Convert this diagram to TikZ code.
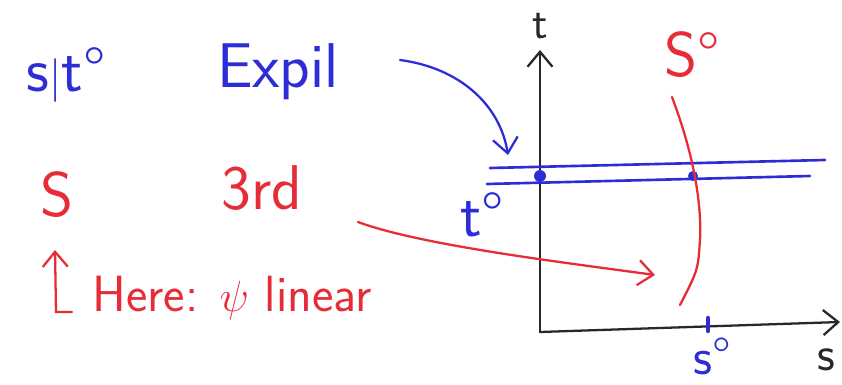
\documentclass[tikz,border=0pt]{standalone}
\usepackage{tikz}
\usetikzlibrary{positioning,arrows.meta}
\definecolor{penblue}{RGB}{45,45,215}
\definecolor{penred}{RGB}{230,45,55}
\definecolor{penblack}{RGB}{40,40,40}
\tikzset{
  hand/.style={font=\sffamily\fontsize{36}{40}\selectfont, inner sep=1pt},
  bluetext/.style={hand, text=penblue},
  redtext/.style={hand, text=penred},
  penarrow/.style={-{Straight Barb[length=3mm,width=5mm]}, line width=1.3pt, line cap=round},
  axisline/.style={penarrow, draw=penblack},
  bluestroke/.style={draw=penblue, line width=1.5pt, line cap=round},
  redstroke/.style={draw=penred, line width=1.3pt, line cap=round}
}
\begin{document}
\begin{tikzpicture}[x=0.02cm, y=-0.02cm]
  \useasboundingbox (0,0) rectangle (842,385);
  % left notes
  \node[bluetext] (st) at (66,75) {s$|$t°};
  \node[bluetext] (expl) at (278,72) {Expil};
  \node[redtext] (S) at (57,195) {S};
  \node[redtext] (third) at (262,188) {3rd};
  \node[redtext, font=\sffamily\fontsize{29}{33}\selectfont] (here) at (232,298) {Here: $\psi$ linear};
  % axes
  \coordinate (O) at (540,332);
  \coordinate (ttop) at (540,50);
  \coordinate (send) at (840,322);
  \draw[axisline] (O) -- (ttop);
  \draw[axisline] (O) -- (send);
  \node[hand, text=penblack, font=\sffamily\fontsize{26}{28}\selectfont] (tlab) at (540,26) {t};
  \node[hand, text=penblack, font=\sffamily\fontsize{28}{30}\selectfont] (slab) at (826,360) {s};
  % t0 lines
  \draw[bluestroke] (490,168) -- (825,160);
  \draw[bluestroke] (487,184) -- (810,176);
  \fill[penblue] (540,176) circle (6);
  \fill[penblue] (693,176) circle (5);
  \node[bluetext] (tzero) at (482,215) {t°};
  % s0 curve
  \draw[redstroke] (672,97) .. controls (692,150) and (702,200) .. (700,240) .. controls (698,270) .. (680,305);
  \node[redtext] (Szero) at (692,55) {S°};
  \draw[bluestroke, line width=2.5pt] (708,318) -- (708,331);
  \node[bluetext, font=\sffamily\fontsize{30}{32}\selectfont] (szero) at (712,356) {s°};
  % arrows
  \coordinate (bluestart) at (400,60);
  \coordinate (bluetip) at (508,155);
  \draw[penarrow, draw=penblue] (bluestart) .. controls (460,68) and (500,105) .. (bluetip);
  \coordinate (redstart) at (358,222);
  \coordinate (redtip) at (655,275);
  \draw[penarrow, draw=penred] (redstart) .. controls (420,245) and (560,262) .. (redtip);
  \draw[penarrow, draw=penred] (72,312) -- (56,312) -- (55,250);
\end{tikzpicture}
\end{document}
